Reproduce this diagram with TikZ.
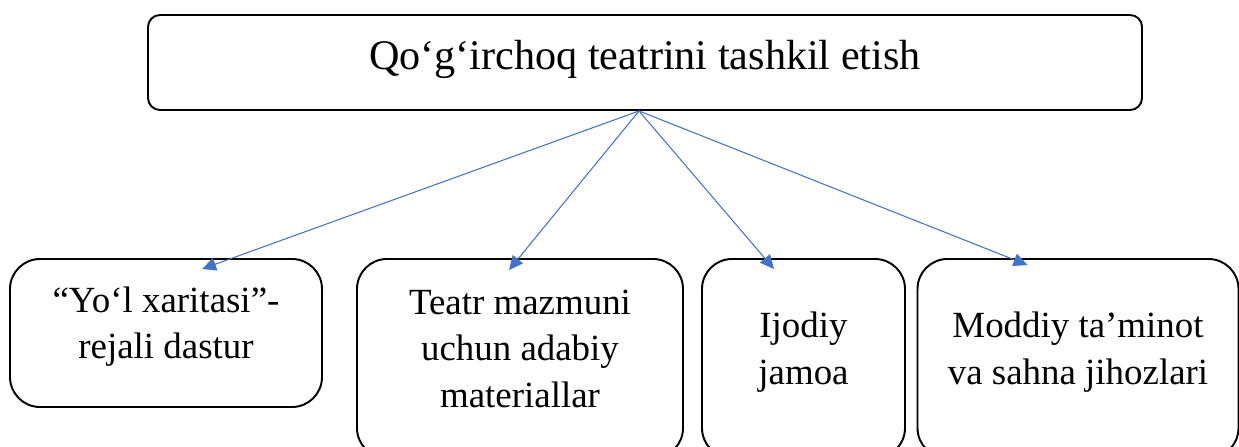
\documentclass[tikz,border=0pt]{standalone}
\usepackage{fontspec}
\setmainfont{Liberation Serif}
\usetikzlibrary{arrows.meta}
\definecolor{linkblue}{RGB}{68,114,196}
\tikzset{
	mainbox/.style={draw, line width=1.1pt, rounded corners=0.24cm, minimum width=19.88cm, minimum height=1.9cm, text height=0.48cm, font=\fontsize{24}{29}\selectfont},
	partbox/.style={draw, line width=1.1pt, rounded corners=0.6cm, align=center, text height=1.02cm, text depth=0cm, font=\fontsize{21}{26.2}\selectfont},
	link/.style={draw=linkblue, line width=0.6pt, -{Triangle[length=0.28cm, width=0.26cm]}}
}

\begin{document}
\begin{tikzpicture}
		\useasboundingbox (0,0) rectangle (24.78, 8.92);

		\node[mainbox] (theatre) at (12.90, 7.67) {Qo‘g‘irchoq teatrini tashkil etish};

		\node[partbox, minimum width=6.24cm, minimum height=2.96cm] (roadmap) at (3.32, 2.26) {“Yo‘l xaritasi”-\\rejali dastur};
		\node[partbox, minimum width=6.52cm, minimum height=3.98cm, text height=1.94cm] (literature) at (10.40, 1.75) {Teatr mazmuni\\uchun adabiy\\materiallar};
		\node[partbox, minimum width=4.06cm, minimum height=3.98cm] (team) at (16.07, 1.75) {Ijodiy\\jamoa};
		\node[partbox, minimum width=6.42cm, minimum height=3.98cm] (props) at (21.56, 1.75) {Moddiy ta’minot\\va sahna jihozlari};

		\draw[link] ([xshift=-0.12cm]theatre.south) -- ([shift={(0.72,-0.22)}]roadmap.north);
		\draw[link] ([xshift=-0.12cm]theatre.south) -- ([shift={(-0.22,-0.24)}]literature.north);
		\draw[link] ([xshift=-0.12cm]theatre.south) -- ([shift={(-0.59,-0.22)}]team.north);
		\draw[link] ([xshift=-0.12cm]theatre.south) -- ([shift={(-1.01,-0.14)}]props.north);
	\end{tikzpicture}
\end{document}
